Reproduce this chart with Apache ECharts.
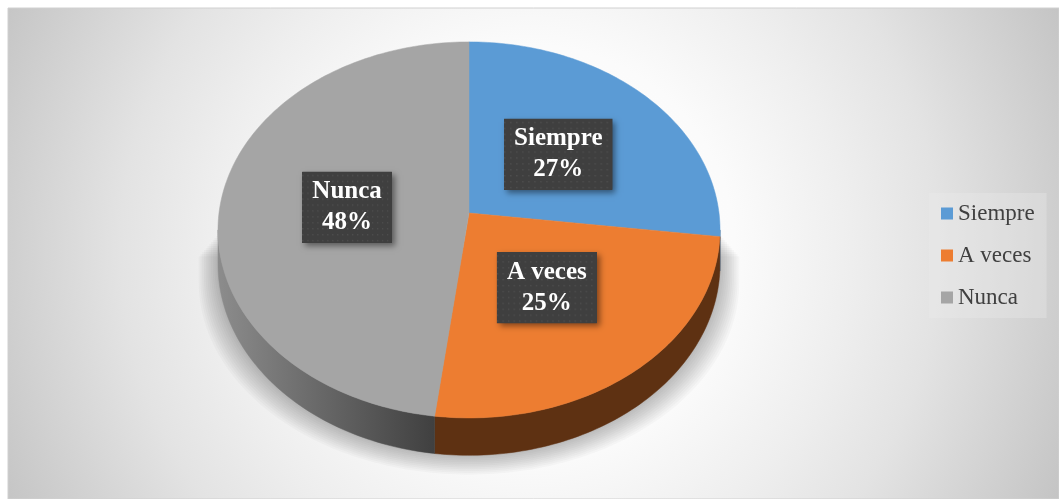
<!DOCTYPE html>
<html>
<head>
<meta charset="utf-8">
<script src="https://cdn.jsdelivr.net/npm/echarts@6/dist/echarts.min.js"></script>
<style>
  html, body { margin: 0; padding: 0; background: #fff; }
  #chart { width: 1059px; height: 499px; }
</style>
</head>
<body>
<div id="chart"></div>
<script>
const categories = ['Siempre', 'A veces', 'Nunca'];
const percentages = [27, 25, 48];

const palette = ['#5b9bd5', '#ed7d31', '#a5a5a5'];
const wallColors = ['#2e5d88', '#5e3112', null];

// pie geometry (tilted disc with a bit of perspective)
const CX = 469, CY = 213, RX = 250, RY = 186.5, P = 0.09, DEPTH = 34;
const total = percentages.reduce((a, b) => a + b, 0);

// dotted dark texture for the data label boxes
const dots = document.createElement('canvas');
dots.width = 108; dots.height = 72;
(function () {
  const g = dots.getContext('2d');
  g.fillStyle = '#3f3f3f';
  g.fillRect(0, 0, dots.width, dots.height);
  g.fillStyle = '#4f4f4f';
  for (let y = 3; y < dots.height; y += 6) {
    for (let x = (y / 6) % 2 ? 0 : 3; x < dots.width; x += 6) g.fillRect(x, y, 1.5, 1.5);
  }
})();

function proj(theta, f, dz) {
  const u = Math.sin(theta) * f;
  const v = -Math.cos(theta) * f;
  const w = 1 / (1 - P * v);
  return [CX + RX * u * w, CY + RY * v * w + (dz || 0) * w];
}

function sliceAngles(i) {
  let start = 0;
  for (let k = 0; k < i; k++) start += percentages[k];
  return [start / total * Math.PI * 2, (start + percentages[i]) / total * Math.PI * 2];
}

function arc(a, b, dz) {
  const pts = [];
  const n = Math.max(2, Math.ceil(Math.abs(b - a) / 0.02));
  for (let s = 0; s <= n; s++) pts.push(proj(a + (b - a) * s / n, 1, dz));
  return pts;
}

const T_RIGHT = Math.acos(-P);
const T_LEFT = Math.PI * 2 - T_RIGHT;

function renderSlice(params, api) {
  const i = params.seriesIndex;
  const [a, b] = sliceAngles(i);
  const pts = [[CX, CY]].concat(arc(a, b, 0));
  const mid = (a + b) / 2;
  const lp = proj(mid, 0.49, 0);
  const text = categories[i] + '\n' + api.value(0) + '%';
  const base = {
    text: text,
    x: lp[0],
    y: lp[1],
    align: 'center',
    verticalAlign: 'middle',
    font: 'bold 25px "Liberation Serif", "Times New Roman", serif',
    lineHeight: 31,
    padding: [5, 10, 4, 10]
  };
  return {
    type: 'group',
    children: [
      {
        type: 'polygon',
        shape: { points: pts },
        style: { fill: palette[i], stroke: palette[i], lineWidth: 0.5 }
      },
      {
        type: 'text',
        z2: 9,
        style: Object.assign({}, base, {
          fill: 'rgba(0,0,0,0)',
          backgroundColor: '#404040',
          shadowColor: 'rgba(0,0,0,0.45)',
          shadowBlur: 6,
          shadowOffsetX: 3,
          shadowOffsetY: 3
        })
      },
      {
        type: 'text',
        z2: 10,
        style: Object.assign({}, base, {
          fill: '#ffffff',
          backgroundColor: { image: dots }
        })
      }
    ]
  };
}

function renderWalls(params, api) {
  const children = [];
  // soft shadow under the disc, built from stacked faint outlines
  for (let k = 0; k < 12; k++) {
    const s = 1.0 + 0.007 * k;
    const grow = (p) => [CX + (p[0] - CX) * s, p[1]];
    const pts = [grow(proj(T_RIGHT, 1, 4 + 2 * k))]
      .concat(arc(T_RIGHT, T_LEFT, DEPTH + 1.6 * k).map(grow))
      .concat([grow(proj(T_LEFT, 1, 4 + 2 * k))]);
    children.push({
      type: 'polygon',
      shape: { points: pts },
      style: { fill: 'rgba(0,0,0,0.022)' }
    });
  }
  for (let i = 0; i < percentages.length; i++) {
    let [a, b] = sliceAngles(i);
    a = Math.max(a, T_RIGHT);
    b = Math.min(b, T_LEFT);
    if (b <= a) continue;
    const top = arc(a, b, 0);
    const bottom = arc(a, b, DEPTH).reverse();
    let fill = wallColors[i];
    if (!fill) {
      fill = {
        type: 'linear', x: 218, y: 0, x2: 434, y2: 0, global: true,
        colorStops: [
          { offset: 0, color: '#8c8c8c' },
          { offset: 0.5, color: '#666666' },
          { offset: 1, color: '#404040' }
        ]
      };
    }
    children.push({
      type: 'polygon',
      shape: { points: top.concat(bottom) },
      style: { fill: fill, stroke: fill, lineWidth: 0.5 }
    });
  }
  return { type: 'group', children: children };
}

const chart = echarts.init(document.getElementById('chart'));

const series = categories.map((name, i) => ({
  type: 'custom',
  name: name,
  coordinateSystem: 'none',
  silent: true,
  z: 3,
  itemStyle: { color: palette[i] },
  data: [percentages[i]],
  renderItem: renderSlice
}));
series.push({
  type: 'custom',
  name: 'walls',
  coordinateSystem: 'none',
  silent: true,
  z: 1,
  data: [0],
  renderItem: renderWalls
});

chart.setOption({
  animation: false,
  color: palette,
  graphic: [
    {
      type: 'rect',
      z: -10,
      shape: { x: 8, y: 8, width: 1051, height: 491 },
      style: {
        fill: {
          type: 'radial', x: 530, y: 250, r: 585, global: true,
          colorStops: [
            { offset: 0, color: '#ffffff' },
            { offset: 0.35, color: '#fbfbfb' },
            { offset: 0.55, color: '#eeeeee' },
            { offset: 0.7, color: '#e3e3e3' },
            { offset: 1, color: '#c4c4c4' }
          ]
        },
        stroke: '#d0d0d0',
        lineWidth: 1
      }
    }
  ],
  legend: {
    data: categories,
    orient: 'vertical',
    left: 929,
    top: 193,
    padding: [9, 12, 9, 12],
    itemGap: 19,
    icon: 'rect',
    itemWidth: 12,
    itemHeight: 12,
    backgroundColor: 'rgba(236,236,236,0.35)',
    textStyle: {
      fontFamily: '"Liberation Serif", "Times New Roman", serif',
      fontSize: 23,
      color: '#404040'
    }
  },
  series: series
});
</script>
</body>
</html>
